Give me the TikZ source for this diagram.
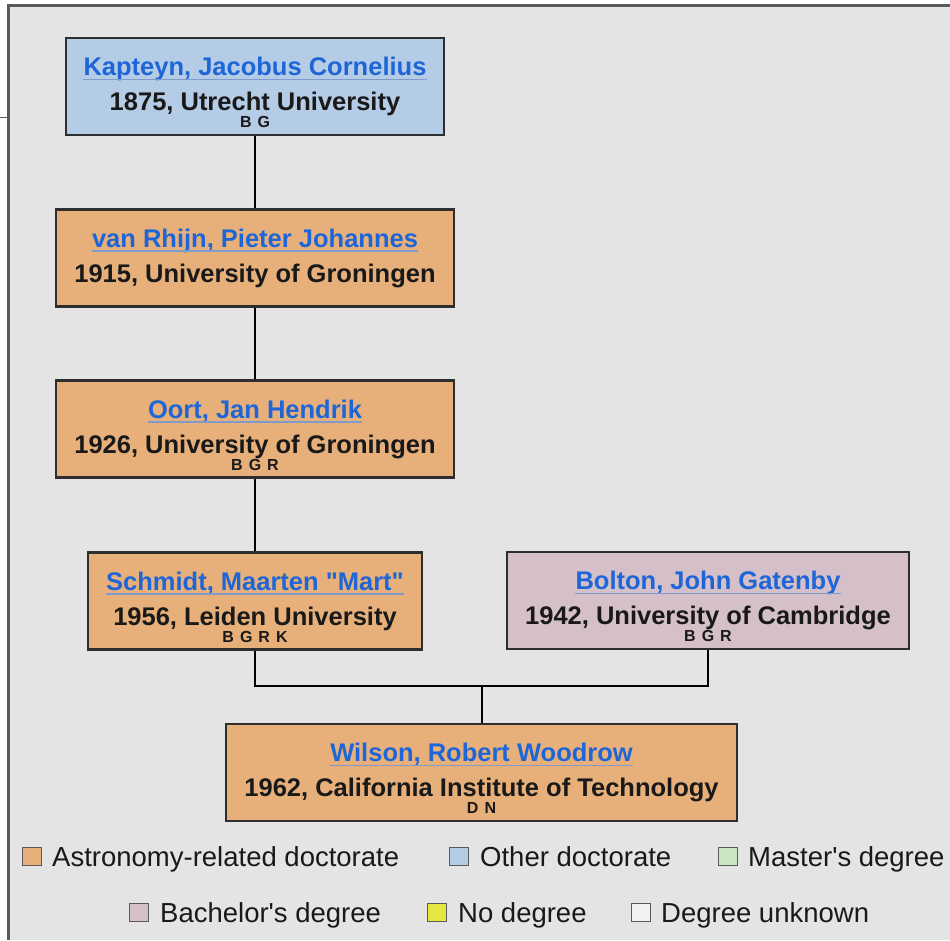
\documentclass[tikz,border=0pt]{standalone}
\usepackage{fontspec}
\setmainfont{Liberation Sans}
\definecolor{bgc}{HTML}{E4E4E4}
\definecolor{framec}{HTML}{5A5A5A}
\definecolor{bluec}{HTML}{B4CCE6}
\definecolor{orangec}{HTML}{E7B07B}
\definecolor{pinkc}{HTML}{D5BFC9}
\definecolor{greenc}{HTML}{C9E5C3}
\definecolor{yellowc}{HTML}{E6E640}
\definecolor{unkc}{HTML}{F2F2F2}
\definecolor{linec}{HTML}{2E2E2E}
\definecolor{linkc}{HTML}{1E66D8}
\definecolor{ulc}{HTML}{7F9BCB}
\newcommand\wideletters[1]{{\spaceskip=6pt\relax #1}}
\tikzset{
  person/.style={draw=linec, line width=2.4pt, rectangle, inner sep=0pt, minimum height=97pt},
  nametext/.style={anchor=base, inner sep=0pt, text=linkc, font=\fontsize{25.5}{28}\selectfont\bfseries},
  yeartext/.style={anchor=base, inner sep=0pt, text=black!90, font=\fontsize{25.5}{28}\selectfont\bfseries},
  lettext/.style={anchor=base, inner sep=0pt, text=black!90, font=\fontsize{16}{17}\selectfont\bfseries},
  uline/.style={draw=ulc, line width=1.6pt},
  conn/.style={draw=black, line width=2pt},
  legsq/.style={draw=framec, line width=1.4pt, rectangle, inner sep=0pt, minimum width=19pt, minimum height=18pt, anchor=south west},
  legtext/.style={anchor=base west, inner sep=0pt, text=black!90, font=\fontsize{27.5}{30}\selectfont}
}
\begin{document}
\begin{tikzpicture}[x=1pt, y=-1pt]
\useasboundingbox (0,0) rectangle (950,940);
\fill[white] (0,0) rectangle (950,940);
\fill[bgc] (8,5) rectangle (950,940);
\draw[framec, line width=3pt] (950,5) -- (8,5) -- (8,940);
\draw[framec, line width=1pt] (0,117) -- (8,117);

% boxes
\node[person, fill=bluec, minimum width=378pt] (k) at (255,86.5) {};
\node[person, fill=orangec, minimum width=398pt] (v) at (255,258) {};
\node[person, fill=orangec, minimum width=398pt] (o) at (255,429) {};
\node[person, fill=orangec, minimum width=334pt] (s) at (255,601) {};
\node[person, fill=pinkc, minimum width=402pt] (b) at (708,600.5) {};
\node[person, fill=orangec, minimum width=511pt] (w) at (481.5,772.5) {};

% connectors
\coordinate (bus) at (481.5,686);
\draw[conn] (k.south) -- (v.north);
\draw[conn] (v.south) -- (o.north);
\draw[conn] (o.south) -- (s.north);
\draw[conn] (s.south) |- (bus) -| (b.south);
\draw[conn] (bus) -- (w.north);

% texts
\foreach \bx/\nm/\yr/\lt in {
  k/{Kapteyn, Jacobus Cornelius}/{1875, Utrecht University}/{B G},
  v/{van Rhijn, Pieter Johannes}/{1915, University of Groningen}/{},
  o/{Oort, Jan Hendrik}/{1926, University of Groningen}/{B G R},
  s/{Schmidt, Maarten \textquotedbl Mart\textquotedbl}/{1956, Leiden University}/{B G R K},
  b/{Bolton, John Gatenby}/{1942, University of Cambridge}/{B G R},
  w/{Wilson, Robert Woodrow}/{1962, California Institute of Technology}/{D N}}{
  \node[nametext] (\bx-n) at ([yshift=-39pt]\bx.north) {\nm};
  \draw[uline] ([yshift=-3.5pt]\bx-n.base west) -- ([yshift=-3.5pt]\bx-n.base east);
  \node[yeartext] (\bx-y) at ([yshift=-74pt]\bx.north) {\yr};
  \node[lettext] (\bx-l) at ([yshift=-91pt]\bx.north) {\wideletters{\lt}};
}

% legend
\node[legsq, fill=orangec] (l1) at (22,866) {};
\node[legtext] (t1) at (52,866) {Astronomy-related doctorate};
\node[legsq, fill=bluec] (l2) at (449,866) {};
\node[legtext] (t2) at (480,866) {Other doctorate};
\node[legsq, fill=greenc] (l3) at (718,866) {};
\node[legtext] (t3) at (748,866) {Master\textquotesingle s degree};
\node[legsq, fill=pinkc] (l4) at (129,922) {};
\node[legtext] (t4) at (160,922) {Bachelor\textquotesingle s degree};
\node[legsq, fill=yellowc] (l5) at (427,922) {};
\node[legtext] (t5) at (458,922) {No degree};
\node[legsq, fill=unkc] (l6) at (631,922) {};
\node[legtext] (t6) at (661,922) {Degree unknown};
\end{tikzpicture}
\end{document}
